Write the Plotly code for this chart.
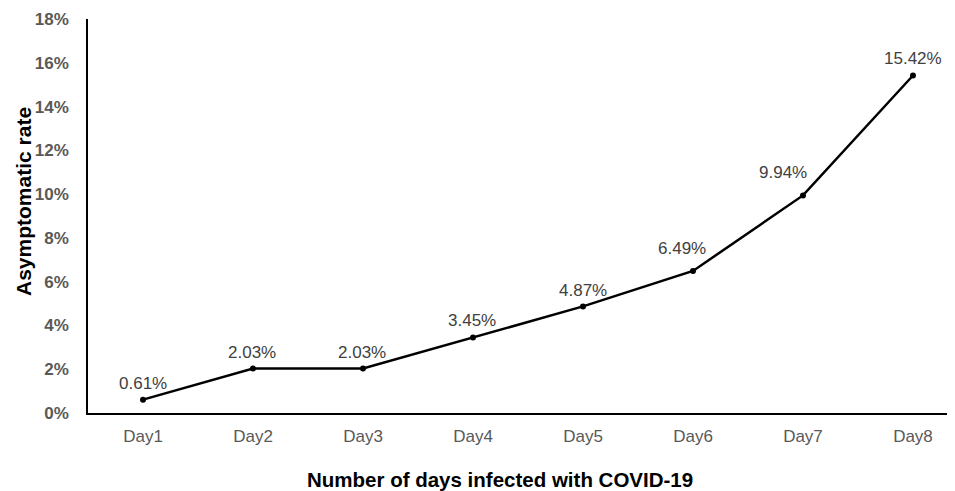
import plotly.graph_objects as go

days = ["Day1", "Day2", "Day3", "Day4", "Day5", "Day6", "Day7", "Day8"]
rates = [0.0061, 0.0203, 0.0203, 0.0345, 0.0487, 0.0649, 0.0994, 0.1542]
labels = ["0.61%", "2.03%", "2.03%", "3.45%", "4.87%", "6.49%", "9.94%", "15.42%"]
y_ticks = [0, 0.02, 0.04, 0.06, 0.08, 0.10, 0.12, 0.14, 0.16, 0.18]
x_title = "Number of days infected with COVID-19"
y_title = "Asymptomatic rate"

# label placement offsets (pixels) relative to each point -- styling only
label_dx = [0, -1, -1, -1, 0, -11, -20, 0]
label_dy = [16.5, 16.5, 16.5, 16.5, 16, 22.5, 22.5, 17]

fig = go.Figure(go.Scatter(
    x=days, y=rates, mode="lines+markers",
    line=dict(color="black", width=2.5),
    marker=dict(color="black", size=6),
    cliponaxis=False,
))

annots = []
for d, r, t, dx, dy in zip(days, rates, labels, label_dx, label_dy):
    annots.append(dict(
        x=d, y=r, text=t, xref="x", yref="y", showarrow=False,
        xanchor="center", yanchor="middle", xshift=dx, yshift=dy,
        font=dict(family="Liberation Sans, Arial", size=17, color="#404040"),
    ))
annots.append(dict(text="<b>" + x_title + "</b>", xref="paper", yref="paper",
                   x=0.4752, y=-0.170, xanchor="center", yanchor="middle", showarrow=False,
                   font=dict(size=20.5, color="black")))
annots.append(dict(text="<b>" + y_title + "</b>", xref="paper", yref="paper",
                   x=-0.075, y=0.538, xanchor="center", yanchor="middle", showarrow=False,
                   textangle=-90, font=dict(size=21, color="black")))

fig.update_layout(
    width=947, height=483,
    margin=dict(l=80, r=0, t=11, b=78),
    paper_bgcolor="white", plot_bgcolor="white",
    showlegend=False,
    font=dict(family="Liberation Sans, Arial"),
    annotations=annots,
)
fig.update_xaxes(
    range=[-0.5, 7.382], showgrid=False, showline=True, linecolor="black", linewidth=1.5,
    ticks="", ticklabelstandoff=7,
    tickfont=dict(size=17, color="#595959"),
)
fig.update_yaxes(
    range=[0, 0.18], tickvals=y_ticks, tickformat=".0%",
    showgrid=False, zeroline=False, showline=True, linecolor="black", linewidth=1.5,
    ticks="", ticklabelstandoff=14,
    tickfont=dict(size=17, color="#595959", weight="bold"),
)

fig.write_html("out.html")
